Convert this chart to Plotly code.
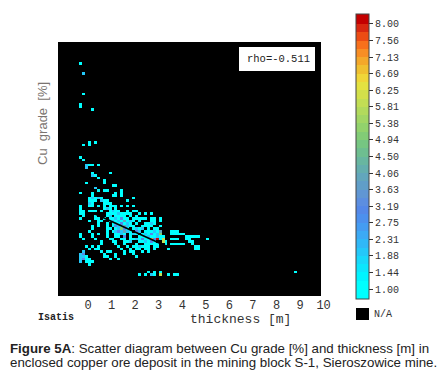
import plotly.graph_objects as go

# ---------------- data ----------------
x_tick_values = [0, 1, 2, 3, 4, 5, 6, 7, 8, 9, 10]
x_tick_labels = ["0", "1", "2", "3", "4", "5", "6", "7", "8", "9", "10"]

cbar_tick_values = [1.0, 1.4375, 1.875, 2.3125, 2.75, 3.1875, 3.625, 4.0625, 4.5,
                    4.9375, 5.375, 5.8125, 6.25, 6.6875, 7.125, 7.5625, 8.0]
cbar_tick_labels = ["1.00", "1.44", "1.88", "2.31", "2.75", "3.19", "3.63", "4.06", "4.50",
                    "4.94", "5.38", "5.81", "6.25", "6.69", "7.13", "7.56", "8.00"]

# density cells: Cu grade level -> thickness cells and sample counts
grade_levels = [22.87, 21.87, 19.87, 18.87, 18.62, 18.37, 15.12, 14.87, 13.62, 13.37,
                12.87, 12.62, 12.12, 11.87, 11.62, 11.37, 11.12, 10.87, 10.62, 10.37,
                10.12, 9.87, 9.62, 9.37, 9.12, 8.87, 8.62, 8.37, 8.12, 7.87,
                7.62, 7.37, 7.12, 6.87, 6.62, 6.37, 6.12, 5.87, 5.62, 5.37,
                5.12, 4.87, 4.62, 4.37, 4.12, 3.87, 3.62, 3.37, 3.12, 2.37, 2.12]

thickness_by_level = [
    [-0.31], [-0.19], [-0.19], [-0.31], [-0.31], [0.19],
    [0.06, 0.31], [-0.19, 0.06], [-0.31], [-0.19],
    [-0.06, 0.06, 0.19, 0.44], [-0.06], [0.19, 0.94], [0.19, 0.31], [0.44], [0.69],
    [-0.06, 0.69], [1.06, 1.19], [0.31], [0.44, 0.69, 0.81, 1.44],
    [-0.31, 0.19, 1.19, 1.44], [0.19, 1.06, 1.19, 1.44],
    [0.06, 0.19, 0.31, 0.44, 0.56, 1.94],
    [0.06, 0.19, 0.31, 0.56, 0.69, 0.81, 1.69],
    [0.06, 0.19, 0.69, 0.81, 0.94],
    [-0.31, 0.06, 0.19, 0.44, 0.69, 0.94, 1.06, 1.19, 1.44, 1.69, 1.94],
    [-0.31, 0.69, 0.81, 0.94, 1.19],
    [-0.31, -0.19, 0.06, 0.19, 0.31, 0.56, 0.94, 1.06, 1.19, 1.31, 1.69, 1.94, 2.06],
    [-0.31, -0.19, 0.81, 0.94, 1.06, 1.19, 1.31, 1.44, 1.56, 1.69, 1.81, 2.19, 2.44, 2.69],
    [-0.19, 0.31, 0.81, 0.94, 1.19, 1.31, 1.44, 1.56, 1.81, 2.06],
    [-0.31, 0.31, 0.44, 0.69, 0.94, 1.06, 1.19, 1.31, 1.44, 1.56, 1.69, 1.94, 2.06, 2.19,
     2.31, 2.44, 2.69, 2.81, 3.06],
    [0.06, 0.44, 0.56, 0.94, 1.06, 1.19, 1.31, 1.44, 1.56, 1.69, 1.81, 1.94, 2.19, 2.69,
     2.81, 3.06],
    [0.44, 0.81, 1.06, 1.19, 1.31, 1.44, 1.56, 1.69, 1.81, 2.06, 2.44, 2.56, 2.69, 2.81],
    [0.19, 0.44, 0.81, 1.06, 1.19, 1.31, 1.44, 1.56, 1.69, 1.81, 1.94, 2.31, 2.44, 2.56,
     2.69, 3.06],
    [0.19, 0.81, 0.94, 1.19, 1.31, 1.44, 1.56, 1.69, 1.94, 2.06, 2.19, 2.31, 2.56, 2.81, 2.94],
    [0.06, 0.81, 1.06, 1.19, 1.31, 1.44, 1.56, 1.69, 1.81, 2.06, 2.19, 2.44, 2.56, 2.69,
     2.81, 2.94, 3.06, 3.56, 3.69, 3.81],
    [-0.31, 0.19, 0.44, 0.81, 1.19, 1.31, 1.44, 1.56, 1.81, 1.94, 2.06, 2.31, 2.44, 2.56,
     2.69, 2.81, 2.94, 3.06, 3.56, 3.69, 3.81, 3.94, 4.06],
    [-0.31, 0.19, 0.81, 1.19, 1.31, 1.56, 1.81, 2.19, 2.31, 2.44, 2.56, 2.69, 2.81, 2.94,
     3.06, 3.19, 4.19, 4.31, 4.44, 4.56, 4.69],
    [-0.19, 0.31, 0.94, 1.06, 1.44, 1.56, 1.81, 1.94, 2.06, 2.19, 2.31, 2.44, 2.56, 2.69,
     2.81, 2.94, 3.06, 3.19, 3.56, 3.69, 3.81, 4.19, 4.31, 5.06],
    [0.56, 1.06, 1.19, 1.56, 1.69, 1.81, 2.19, 2.31, 2.44, 2.56, 2.69, 2.81, 3.19, 3.31,
     4.31, 4.44],
    [0.56, 1.19, 1.56, 2.06, 2.44, 2.56, 2.69, 2.81, 2.94, 3.31, 3.56, 3.69, 3.81, 3.94,
     4.06, 4.44],
    [-0.06, 0.19, 0.44, 1.31, 1.69, 1.94, 2.06, 2.19, 2.31, 2.44, 2.56, 2.81, 2.94, 4.56, 4.69],
    [0.06, 0.31, 0.44, 1.44, 1.81, 2.06, 2.19, 2.44, 2.56, 2.81, 3.44, 4.56, 4.69],
    [-0.19, 0.56, 0.81, 0.94, 1.56, 1.81, 1.94, 2.31, 2.56],
    [-0.31, -0.19, 0.69, 1.19, 1.56, 1.94],
    [-0.31, -0.19, -0.06, 0.69, 0.81, 1.19, 2.06],
    [-0.31, -0.19, -0.06, 0.06, 0.94, 1.31],
    [-0.31, -0.06, 0.06, 0.19],
    [0.06],
    [2.56, 2.81, 3.06, 8.81],
    [2.19, 2.44, 2.69, 2.81, 3.06, 3.44, 3.69, 3.81],
]

count_by_level = [
    [1], [2], [1], [1], [1], [1],
    [1, 1], [1, 1], [1], [1],
    [2, 1, 1, 1], [2], [1, 1], [2, 1], [1], [1],
    [1, 1], [1, 1], [2], [1, 1, 1, 1],
    [1, 1, 1, 1], [1, 1, 1, 1],
    [1, 2, 1, 2, 1, 1],
    [1, 1, 1, 2, 1, 1, 1],
    [2, 1, 1, 1, 1],
    [1, 1, 1, 1, 1, 1, 1, 1, 1, 1, 1],
    [1, 1, 2, 1, 1],
    [1, 1, 1, 1, 1, 1, 1, 2, 1, 1, 1, 1, 1],
    [1, 1, 1, 1, 1, 1, 2, 1, 1, 1, 1, 1, 1, 1],
    [1, 1, 1, 2, 1, 1, 1, 1, 1, 1],
    [1, 1, 1, 1, 1, 1, 2, 1, 3, 1, 1, 1, 1, 1, 1, 1, 1, 1, 1],
    [1, 1, 1, 1, 2, 1, 2, 1, 4, 1, 2, 1, 1, 1, 1, 1],
    [1, 1, 1, 2, 1, 3, 1, 2, 1, 1, 1, 1, 2, 1],
    [1, 1, 1, 1, 3, 2, 1, 4, 2, 1, 1, 1, 1, 1, 1, 1],
    [1, 1, 1, 1, 2, 5, 3, 1, 1, 2, 1, 2, 1, 1, 1],
    [1, 1, 1, 2, 3, 2, 4, 2, 1, 3, 2, 1, 1, 1, 2, 1, 4, 1, 1, 1],
    [1, 1, 1, 1, 1, 1, 2, 1, 1, 2, 1, 1, 2, 1, 3, 1, 2, 5, 1, 1, 1, 1, 1],
    [1, 1, 1, 1, 1, 3, 1, 1, 1, 1, 2, 1, 1, 2, 1, 1, 1, 1, 1, 1, 1],
    [1, 1, 1, 1, 1, 1, 1, 1, 2, 1, 3, 1, 1, 7, 3, 8, 1, 6, 1, 1, 1, 1, 1, 1],
    [1, 1, 1, 1, 1, 2, 1, 1, 2, 1, 3, 1, 6, 1, 1, 1],
    [1, 1, 1, 1, 1, 1, 1, 1, 1, 1, 1, 1, 1, 1, 1, 1],
    [1, 1, 1, 1, 1, 1, 1, 2, 1, 1, 1, 1, 1, 1, 1],
    [1, 1, 1, 1, 1, 1, 1, 1, 1, 1, 1, 1, 1],
    [2, 1, 1, 1, 1, 1, 1, 1, 1],
    [2, 3, 1, 1, 1, 1],
    [2, 2, 1, 1, 1, 1, 1],
    [2, 3, 1, 1, 1, 1],
    [2, 1, 1, 1],
    [1],
    [1, 1, 1, 1],
    [1, 1, 2, 1, 6, 1, 1, 1],
]

# regression line
fit_thickness = [0.21, 3.40]
fit_grade = [8.17, 4.82]
rho_text = "rho=-0.511"

# 32 colour classes from 1.00 (bottom) to 8.00 (top)
palette = ["#00ffff", "#00f4ff", "#0ce6fd", "#18d8fb", "#24c8f9", "#30b8f7", "#3caaf5", "#449cf2",
           "#4c90ee", "#5488e8", "#5c8ee0", "#6096d4", "#609ec8", "#62a6bc", "#64aeae", "#68b6a0",
           "#6ebe90", "#76c682", "#82cc76", "#92d26c", "#a2d664", "#b2da5c", "#c2de54", "#d2e04a",
           "#e4e240", "#f0d638", "#f0c030", "#f4a82a", "#f88e24", "#f8701c", "#ec4c14", "#d82810"]
overflow_high = "#c40000"

# ---------------- figure ----------------
X0, DX, NX = -1.1875, 0.125, 90
Y0, DY, NY = 0.125, 0.25, 100
z = [[None] * NX for _ in range(NY)]
for g, ts, cs in zip(grade_levels, thickness_by_level, count_by_level):
    r = int(round((g - Y0) / DY))
    for t, c in zip(ts, cs):
        k = int(round((t - X0) / DX))
        z[r][k] = c

CMIN, CMAX = 0.736, 8.264
def norm(v):
    return (v - CMIN) / (CMAX - CMIN)

colorscale = [[0.0, palette[0]], [norm(1.0), palette[0]]]
step = 7.0 / len(palette)
for i, col in enumerate(palette):
    a, b = 1.0 + i * step, 1.0 + (i + 1) * step
    colorscale.append([norm(a), col])
    colorscale.append([norm(b), col])
colorscale.append([norm(8.0), overflow_high])
colorscale.append([1.0, overflow_high])

# layout geometry (pixels)
W, H = 439, 372
ML, MR, MT, MB = 58, 114, 42, 76
PW, PH = W - ML - MR, H - MT - MB
def px(xp):
    return (xp - ML) / PW
def py(yp):
    return (H - MB - yp) / PH

fig = go.Figure()
fig.add_trace(go.Heatmap(
    z=z, x0=X0, dx=DX, y0=Y0, dy=DY,
    zmin=CMIN, zmax=CMAX, colorscale=colorscale, hoverinfo="skip",
    colorbar=dict(
        x=px(356), xanchor="left", xpad=0,
        y=py(156.5), yanchor="middle", ypad=0,
        len=285, lenmode="pixels", thickness=13, thicknessmode="pixels",
        tickvals=cbar_tick_values, ticktext=cbar_tick_labels,
        ticks="outside", ticklen=4, tickcolor="#333333", tickwidth=1,
        tickfont=dict(family="Liberation Mono", size=10, color="#333333"),
        outlinewidth=1, outlinecolor="#444444",
    ),
))
fig.add_trace(go.Scatter(
    x=fit_thickness, y=fit_grade, mode="lines",
    line=dict(color="#000000", width=1.8), hoverinfo="skip", showlegend=False,
))

XMIN = -30 / 23.56
XMAX = XMIN + PW / 23.56
fig.update_layout(
    width=W, height=H, autosize=False,
    margin=dict(l=ML, r=MR, t=MT, b=MB, pad=0),
    paper_bgcolor="#ffffff", plot_bgcolor="#ffffff",
    showlegend=False,
    xaxis=dict(range=[XMIN, XMAX], tickvals=x_tick_values, ticktext=x_tick_labels,
               showgrid=False, zeroline=False, showline=False, ticks="",
               tickfont=dict(family="Liberation Mono", size=12, color="#333333")),
    yaxis=dict(range=[0, 25], visible=False),
    shapes=[
        dict(type="rect", xref="x", yref="paper", x0=XMIN, x1=XMIN + 263 / 23.56, y0=0, y1=1,
             fillcolor="#000000", line=dict(width=0), layer="below"),
        dict(type="rect", xref="paper", yref="paper", x0=px(239), x1=px(315), y0=py(71), y1=py(47),
             fillcolor="#ffffff", line=dict(width=0)),
        dict(type="rect", xref="paper", yref="paper", x0=px(356), x1=px(369), y0=py(320), y1=py(308),
             fillcolor="#000000", line=dict(width=0)),
    ],
    annotations=[
        dict(text=rho_text, xref="paper", yref="paper", x=px(312), y=py(59), xanchor="right",
             yanchor="middle", showarrow=False,
             font=dict(family="Liberation Mono", size=10.5, color="#222222")),
        dict(text="thickness [m]", xref="paper", yref="paper", x=px(240), y=py(319),
             xanchor="center", yanchor="middle", showarrow=False,
             font=dict(family="Liberation Mono", size=13, color="#333333")),
        dict(text="<b>Isatis</b>", xref="paper", yref="paper", x=px(55.5), y=py(317),
             xanchor="center", yanchor="middle", showarrow=False,
             font=dict(family="Liberation Mono", size=10, color="#222222")),
        dict(text="Cu  grade  [%]", xref="paper", yref="paper", x=px(42), y=py(124),
             xanchor="center", yanchor="middle", showarrow=False, textangle=-90,
             font=dict(family="Liberation Sans", size=13, color="#7a7470")),
        dict(text="N/A", xref="paper", yref="paper", x=px(372), y=py(314),
             xanchor="left", yanchor="middle", showarrow=False,
             font=dict(family="Liberation Mono", size=10, color="#333333")),
        dict(text="<b>Figure 5A</b>: Scatter diagram between Cu grade [%] and thickness [m] in",
             xref="paper", yref="paper", x=px(9), y=py(348), xanchor="left", yanchor="middle",
             showarrow=False, borderpad=0,
             font=dict(family="Liberation Sans", size=13.3, color="#222222")),
        dict(text="enclosed copper ore deposit in the mining block S-1, Sieroszowice mine.",
             xref="paper", yref="paper", x=px(9), y=py(362), xanchor="left", yanchor="middle",
             showarrow=False, borderpad=0,
             font=dict(family="Liberation Sans", size=13.3, color="#222222")),
    ],
)

fig.write_html("out.html", config={"displayModeBar": False},
               post_script="document.body.style.margin='0';")
